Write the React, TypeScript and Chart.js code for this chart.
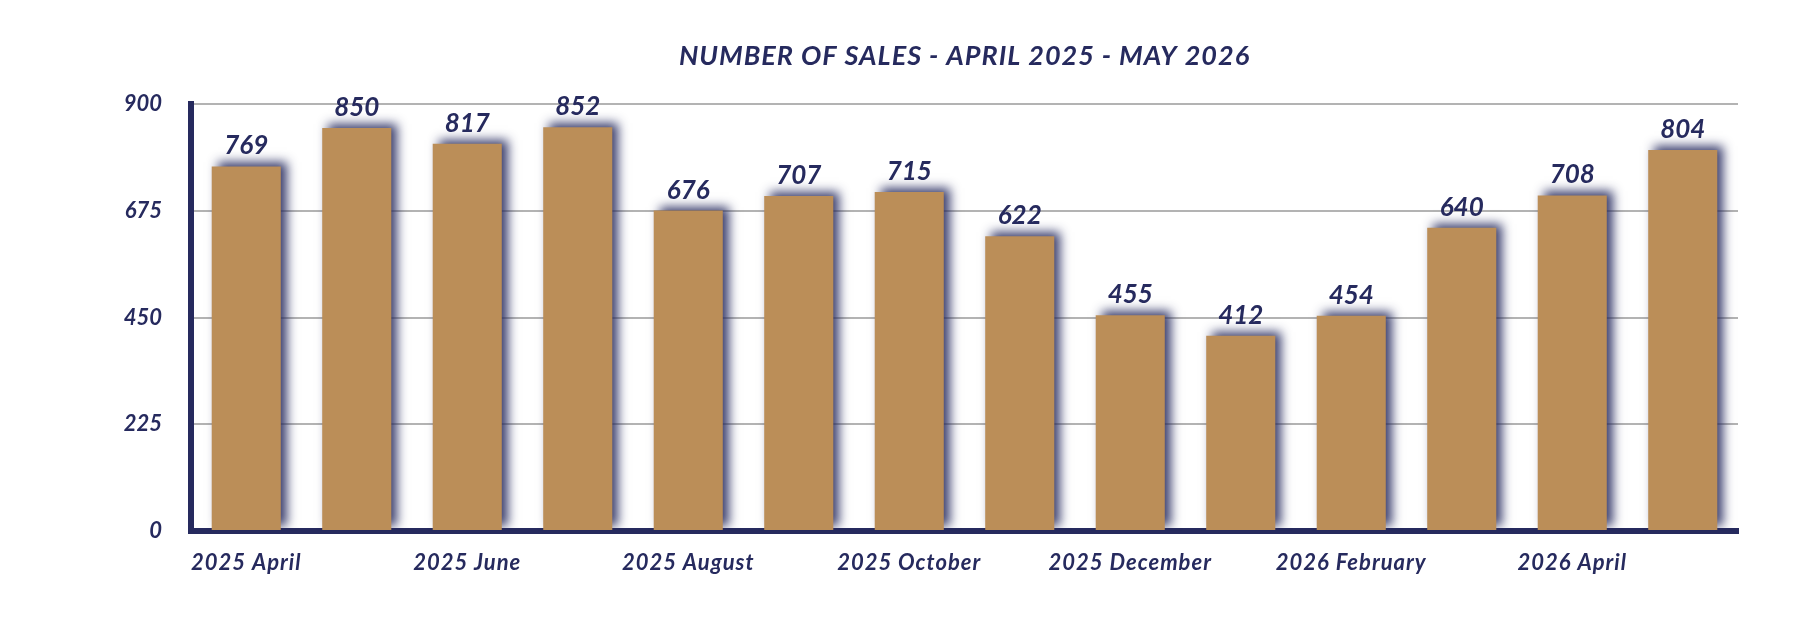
import React, { useEffect, useRef } from "react";
import { Chart, registerables } from "chart.js";

Chart.register(...registerables);

const categories = [
  "2025 April", "2025 May", "2025 June", "2025 July", "2025 August", "2025 September",
  "2025 October", "2025 November", "2025 December", "2026 January", "2026 February",
  "2026 March", "2026 April", "2026 May",
];
const sales = [769, 850, 817, 852, 676, 707, 715, 622, 455, 412, 454, 640, 708, 804];
const yTicks = [0, 225, 450, 675, 900];
const titleText = "NUMBER OF SALES - APRIL 2025 - MAY 2026";

const NAVY = "#262a5e";
const GOLD = "#bb8e58";
const FONT = "Lato, 'Open Sans', sans-serif";

export default function App() {
  const ref = useRef<HTMLCanvasElement | null>(null);

  useEffect(() => {
    if (!ref.current) return;

    const spacingShadowLabels = {
      id: "spacingShadowLabels",
      beforeDraw(chart: any) {
        (chart.ctx as any).letterSpacing = "1px";
      },
      beforeDatasetsDraw(chart: any) {
        const ctx = chart.ctx;
        (ctx as any).letterSpacing = "0px";
        ctx.save();
        ctx.shadowColor = "rgba(38,42,94,0.9)";
        ctx.shadowBlur = 10;
        ctx.shadowOffsetX = 6;
        ctx.shadowOffsetY = -4;
      },
      afterDatasetsDraw(chart: any) {
        const ctx = chart.ctx;
        ctx.restore();
        ctx.save();
        ctx.fillStyle = NAVY;
        ctx.font = `italic bold 26px ${FONT}`;
        ctx.textAlign = "center";
        ctx.textBaseline = "alphabetic";
        const meta = chart.getDatasetMeta(0);
        meta.data.forEach((bar: any, i: number) => {
          ctx.fillText(String(sales[i]), bar.x, bar.y - 12);
        });
        ctx.restore();
      },
    };

    const chart = new Chart(ref.current, {
      type: "bar",
      data: {
        labels: categories,
        datasets: [
          {
            data: sales,
            backgroundColor: GOLD,
            borderWidth: 0,
            categoryPercentage: 1,
            barPercentage: 0.625,
          },
        ],
      },
      options: {
        animation: false,
        responsive: false,
        maintainAspectRatio: false,
        layout: { padding: { left: 0, right: 72, top: 0, bottom: 0 } },
        plugins: {
          legend: { display: false },
          tooltip: { enabled: false },
          title: {
            display: true,
            text: titleText,
            color: NAVY,
            fullSize: false,
            font: { family: FONT, size: 27, style: "italic", weight: "bold" },
            padding: { top: 32, bottom: 32 },
          },
        },
        scales: {
          x: {
            grid: { display: false, drawTicks: false },
            border: { display: true, color: NAVY, width: 6 },
            ticks: {
              autoSkip: false,
              maxRotation: 0,
              minRotation: 0,
              padding: 19,
              color: NAVY,
              font: { family: FONT, size: 22, style: "italic", weight: "bold" },
              callback: (_v: any, i: number) => (i % 2 === 0 ? categories[i] : ""),
            },
            afterFit: (scale: any) => {
              scale.height = 101;
            },
          },
          y: {
            min: 0,
            max: 900,
            grid: { color: "#b3b3b3", lineWidth: 2, drawTicks: false },
            border: { display: true, color: NAVY, width: 6 },
            afterBuildTicks: (scale: any) => {
              scale.ticks = yTicks.map((v) => ({ value: v }));
            },
            ticks: {
              z: 1,
              padding: 29,
              color: NAVY,
              font: { family: FONT, size: 22, style: "italic", weight: "bold" },
            },
            afterFit: (scale: any) => {
              scale.width = 183;
            },
          },
        },
      },
      plugins: [spacingShadowLabels],
    });

    return () => chart.destroy();
  }, []);

  return (
    <div style={{ width: 1802, height: 624 }}>
      <canvas ref={ref} width={1802} height={624} style={{ display: "block" }} />
    </div>
  );
}
